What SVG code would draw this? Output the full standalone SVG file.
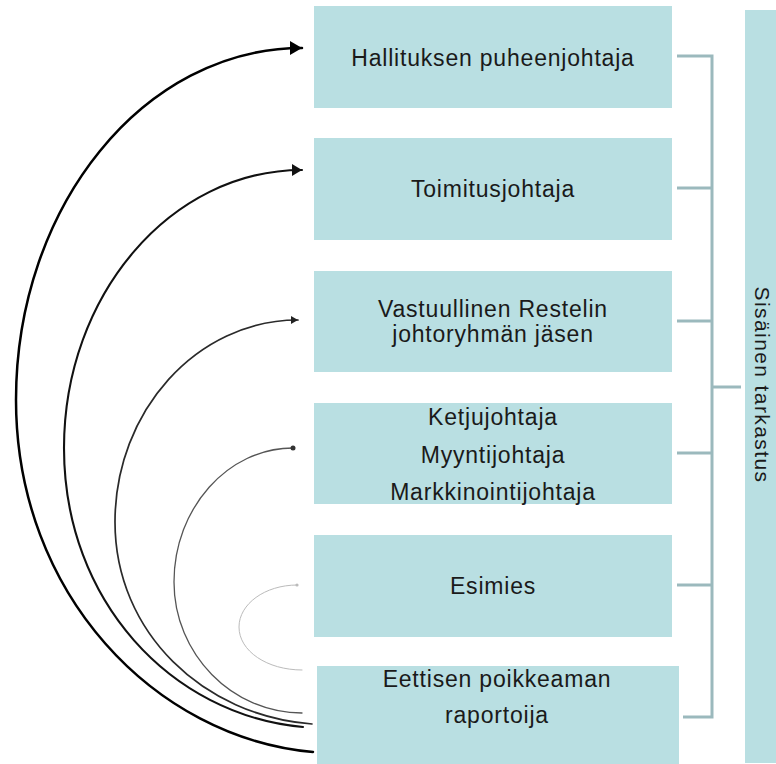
<svg xmlns="http://www.w3.org/2000/svg" width="776" height="764" viewBox="0 0 776 764">
<style>
.box{fill:#b9dfe2;}
.t{font-family:"Liberation Sans",Arial,sans-serif;font-size:23px;letter-spacing:0.8px;fill:#1a1a1a;text-anchor:middle;}
.tv{font-family:"Liberation Sans",Arial,sans-serif;font-size:21px;letter-spacing:1.4px;fill:#1a1a1a;text-anchor:middle;}
.br{fill:none;stroke:#9bb9bd;stroke-width:3;}
.arc{fill:none;stroke-linecap:round;}
</style>
<defs>
<marker id="ah1" markerUnits="userSpaceOnUse" markerWidth="13" markerHeight="14" refX="12" refY="7" orient="auto"><path d="M0,0 L12,7 L0,14 z" fill="#000"/></marker>
<marker id="ah2" markerUnits="userSpaceOnUse" markerWidth="11" markerHeight="12" refX="10" refY="6" orient="auto"><path d="M0,0 L10,6 L0,12 z" fill="#111"/></marker>
<marker id="ah3" markerUnits="userSpaceOnUse" markerWidth="8" markerHeight="8" refX="7" refY="4" orient="auto"><path d="M0,0 L7,4 L0,8 z" fill="#222"/></marker>
<marker id="dot4" markerUnits="userSpaceOnUse" markerWidth="6" markerHeight="6" refX="3" refY="3" orient="auto"><circle cx="3" cy="3" r="2.5" fill="#333"/></marker>
<marker id="dot5" markerUnits="userSpaceOnUse" markerWidth="4" markerHeight="4" refX="2" refY="2" orient="auto"><circle cx="2" cy="2" r="1.6" fill="#bbb"/></marker>
</defs>
<rect width="776" height="764" fill="#fff"/>

<g id="connectors">
<path class="br" d="M677,56 H712 V717 H683"/>
<path class="br" d="M677,188 H712 M677,321 H712 M677,453 H712 M677,585 H712 M712,387 H741"/>
<path class="arc" stroke="#000" stroke-width="2.5" marker-end="url(#ah1)" d="M313,752 C155,738 16,594 16,400 C16,206 144,48 302,48"/>
<path class="arc" stroke="#111" stroke-width="2.1" marker-end="url(#ah2)" d="M303,727 C171,715 64,601 64,448 C64,295 171,170 302,170"/>
<path class="arc" stroke="#2a2a2a" stroke-width="1.7" marker-end="url(#ah3)" d="M312,724 C204,716 115,633 115,522 C115,411 197,320 298,320"/>
<path class="arc" stroke="#555" stroke-width="1.3" marker-end="url(#dot4)" d="M302,713 C232,713 174,654 174,582 C174,508 228,448 293,448"/>
<path class="arc" stroke="#bbb" stroke-width="1" marker-end="url(#dot5)" d="M302,670 C267,670 239,651 239,627 C239,604 265,585 297,585"/>
</g>

<g id="n1"><rect class="box" x="314" y="6" width="358" height="102"/><text class="t" x="493" y="66">Hallituksen puheenjohtaja</text></g>
<g id="n2"><rect class="box" x="314" y="138" width="358" height="102"/><text class="t" x="493" y="197">Toimitusjohtaja</text></g>
<g id="n3"><rect class="box" x="314" y="271" width="358" height="101"/><text class="t" x="493" y="317">Vastuullinen Restelin</text><text class="t" x="493" y="342">johtoryhmän jäsen</text></g>
<g id="n4"><rect class="box" x="314" y="403" width="358" height="101"/><text class="t" x="493" y="425">Ketjujohtaja</text><text class="t" x="493" y="463">Myyntijohtaja</text><text class="t" x="493" y="500">Markkinointijohtaja</text></g>
<g id="n5"><rect class="box" x="314" y="535" width="358" height="102"/><text class="t" x="493" y="594">Esimies</text></g>
<g id="n6"><rect class="box" x="317" y="666" width="362" height="110"/><text class="t" x="497" y="687">Eettisen poikkeaman</text><text class="t" x="497" y="723">raportoija</text></g>
<g id="n7"><rect class="box" x="745" y="10" width="40" height="753"/><text class="tv" transform="translate(755,385) rotate(90)" x="0" y="0">Sisäinen tarkastus</text></g>
</svg>
